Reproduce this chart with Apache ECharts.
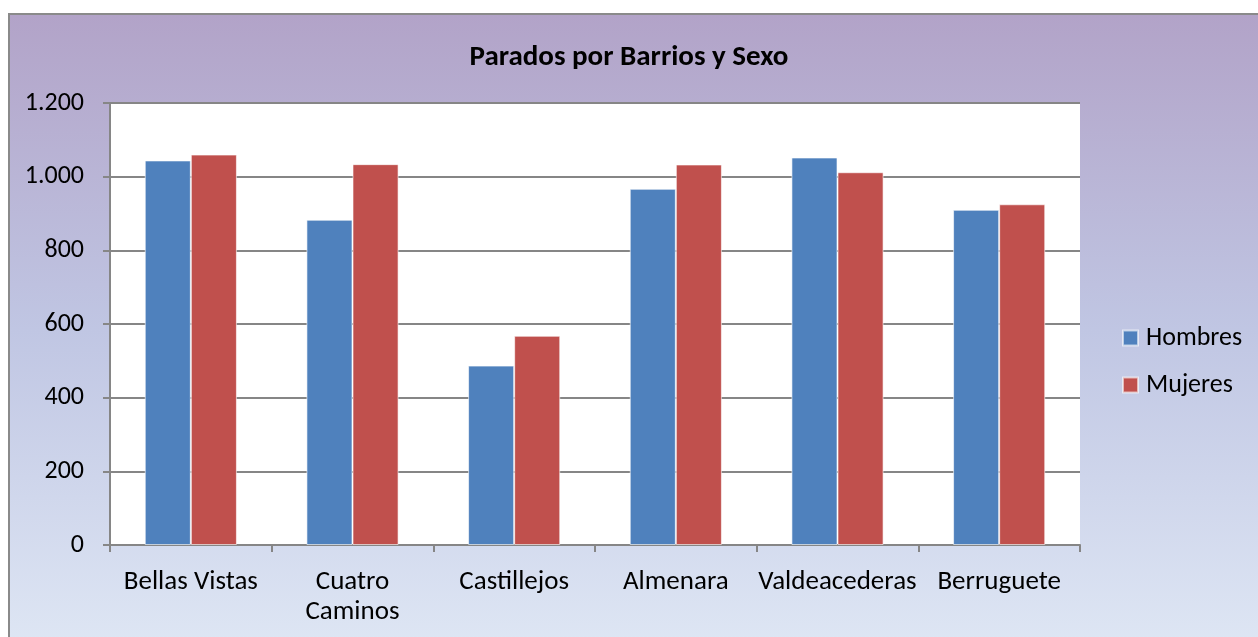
<!DOCTYPE html>
<html>
<head>
<meta charset="utf-8">
<script src="https://cdn.jsdelivr.net/npm/echarts@6/dist/echarts.min.js"></script>
<style>
  html, body { margin: 0; padding: 0; background: #fff; }
  #frame {
    position: absolute; left: 8px; top: 13px; width: 1262px; height: 634px;
    border: 2px solid #8a8a8a; box-sizing: border-box;
    background: linear-gradient(to bottom, #b2a3c8 0%, #c0c6e3 50%, #dee6f4 100%);
  }
  #chart { position: absolute; left: 0; top: 0; width: 1258px; height: 637px; }
</style>
</head>
<body>
<div id="frame"></div>
<div id="chart"></div>
<script>
// datos
const barrios = ['Bellas Vistas', 'Cuatro\nCaminos', 'Castillejos', 'Almenara', 'Valdeacederas', 'Berruguete'];
const hombres = [1044, 883, 487, 967, 1052, 910];
const mujeres = [1060, 1034, 568, 1033, 1012, 925];

const fuente = 'Carlito, Lato, "Open Sans", sans-serif';
const gris = '#868686';

let myChart = echarts.init(document.getElementById('chart'));
myChart.setOption({
    backgroundColor: 'transparent',
    textStyle: { fontFamily: fuente },
    title: {
        text: 'Parados por Barrios y Sexo',
        left: 'center',
        top: 38,
        textStyle: { fontFamily: fuente, fontSize: 29, fontWeight: 'bold', color: '#000' }
    },
    legend: {
        orient: 'vertical',
        left: 1122,
        top: 325,
        padding: 0,
        icon: 'rect',
        itemWidth: 15,
        itemHeight: 15,
        itemGap: 21,
        textStyle: { fontFamily: fuente, fontSize: 26, color: '#000', padding: [0, 0, 0, 3] },
        data: ['Hombres', 'Mujeres']
    },
    grid: {
        left: 110,
        right: 178,
        top: 103,
        bottom: 92,
        show: true,
        backgroundColor: '#fff',
        borderWidth: 0
    },
    xAxis: {
        type: 'category',
        data: barrios,
        axisLine: { lineStyle: { color: gris, width: 2 } },
        axisTick: { show: true, length: 7, lineStyle: { color: gris, width: 2 } },
        axisLabel: { fontFamily: fuente, fontSize: 27, color: '#000', margin: 22, lineHeight: 30, interval: 0 }
    },
    yAxis: {
        type: 'value',
        min: 0,
        max: 1200,
        interval: 200,
        axisLine: { show: true, lineStyle: { color: gris, width: 2 } },
        axisTick: { show: true, length: 7, lineStyle: { color: gris, width: 2 } },
        splitLine: { lineStyle: { color: gris, width: 2 } },
        axisLabel: {
            fontFamily: fuente, fontSize: 26, color: '#000', margin: 26,
            formatter: v => v.toString().replace(/\B(?=(\d{3})+(?!\d))/g, '.')
        }
    },
    series: [
        {
            name: 'Hombres',
            type: 'bar',
            data: hombres,
            barGap: '0%',
            barCategoryGap: '43%',
            itemStyle: { color: '#4F81BD', borderColor: 'rgba(255,255,255,0.6)', borderWidth: 1 }
        },
        {
            name: 'Mujeres',
            type: 'bar',
            data: mujeres,
            itemStyle: { color: '#C0504D', borderColor: 'rgba(255,255,255,0.6)', borderWidth: 1 }
        }
    ]
});
</script>
</body>
</html>
